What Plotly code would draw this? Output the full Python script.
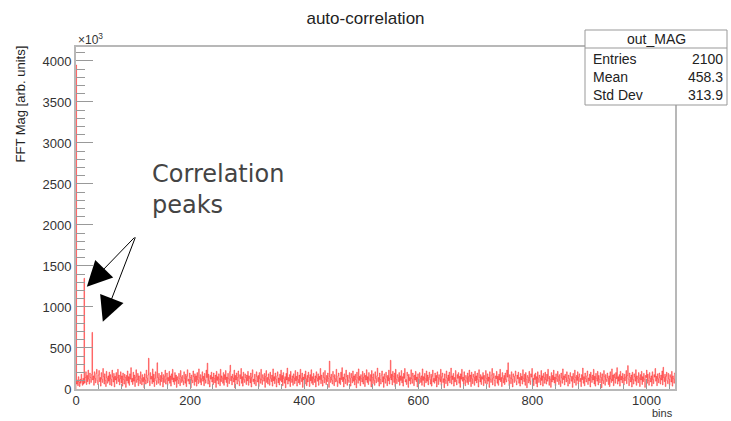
import plotly.graph_objects as go

# Histogram "out_MAG": 1050 bins over [0, 1050), contents in units of 1e3
bin_low = 0
bin_high = 1050

mag_rows = [
    [3950, 60, 110, 40, 150, 85, 30, 120, 70, 180, 95, 45, 130, 60, 1350, 75, 140, 210, 55, 165, 90, 230, 120, 60, 195, 140, 80, 175, 690, 110],
    [160, 45, 210, 130, 75, 190, 240, 100, 55, 170, 225, 90, 140, 35, 200, 120, 80, 250, 150, 60, 185, 105, 30, 215, 135, 70, 160, 95, 205, 50],
    [175, 120, 40, 230, 145, 85, 190, 25, 155, 110, 200, 65, 135, 240, 90, 170, 50, 125, 210, 75, 160, 35, 195, 115, 60, 180, 140, 20, 165, 100],
    [220, 70, 150, 45, 185, 120, 260, 85, 130, 55, 205, 95, 170, 30, 145, 235, 80, 115, 190, 40, 160, 105, 65, 210, 125, 50, 175, 90, 140, 15],
    [185, 110, 60, 230, 135, 75, 170, 375, 95, 40, 200, 120, 155, 65, 245, 85, 180, 30, 130, 210, 100, 55, 320, 140, 70, 190, 115, 45, 165, 90],
    [205, 130, 25, 175, 80, 150, 230, 60, 120, 195, 45, 140, 100, 215, 70, 160, 35, 185, 115, 240, 85, 135, 55, 200, 95, 170, 20, 150, 110, 65],
    [190, 125, 40, 225, 145, 80, 165, 100, 50, 210, 130, 70, 180, 30, 155, 235, 95, 120, 60, 195, 140, 15, 170, 105, 75, 220, 150, 45, 185, 90],
    [160, 35, 200, 115, 65, 245, 135, 80, 175, 50, 125, 210, 95, 155, 40, 190, 110, 70, 230, 140, 315, 60, 180, 100, 25, 165, 120, 205, 85, 145],
    [55, 195, 130, 75, 170, 20, 215, 105, 150, 60, 185, 120, 40, 240, 90, 160, 135, 70, 200, 45, 175, 115, 225, 80, 145, 30, 190, 125, 65, 210],
    [290, 100, 155, 50, 180, 135, 85, 230, 15, 165, 110, 195, 60, 140, 220, 95, 40, 175, 125, 250, 70, 150, 35, 205, 115, 80, 185, 140, 55, 170],
    [100, 215, 45, 160, 130, 75, 195, 25, 145, 235, 90, 120, 60, 180, 105, 40, 210, 150, 85, 165, 30, 200, 125, 70, 240, 110, 55, 175, 135, 95],
    [190, 20, 155, 225, 80, 140, 60, 185, 115, 45, 205, 130, 90, 170, 35, 245, 100, 150, 65, 195, 120, 25, 160, 210, 75, 135, 50, 180, 105, 230],
    [85, 165, 40, 200, 125, 70, 150, 15, 190, 110, 255, 60, 140, 95, 175, 30, 215, 120, 80, 160, 45, 185, 135, 65, 225, 100, 155, 35, 205, 115],
    [75, 170, 55, 240, 130, 90, 195, 20, 145, 110, 180, 60, 220, 125, 40, 165, 85, 205, 140, 30, 175, 100, 235, 70, 150, 50, 190, 120, 80, 160],
    [25, 210, 135, 95, 185, 45, 155, 115, 250, 65, 170, 105, 35, 200, 140, 75, 225, 120, 55, 165, 90, 195, 130, 20, 340, 145, 80, 180, 110, 60],
    [215, 150, 40, 175, 125, 85, 240, 100, 30, 160, 195, 70, 135, 55, 205, 115, 260, 90, 145, 25, 185, 120, 65, 230, 150, 45, 170, 105, 80, 200],
    [130, 35, 190, 140, 75, 220, 95, 160, 50, 180, 115, 15, 205, 135, 70, 245, 105, 155, 40, 175, 125, 85, 215, 60, 145, 190, 30, 165, 110, 235],
    [80, 150, 55, 200, 120, 95, 175, 25, 225, 140, 65, 185, 105, 45, 210, 130, 75, 160, 255, 90, 140, 35, 195, 115, 60, 170, 220, 85, 150, 20],
    [185, 125, 70, 205, 145, 40, 165, 100, 230, 60, 135, 350, 110, 180, 50, 215, 155, 80, 195, 30, 240, 120, 65, 175, 140, 90, 200, 45, 160, 105],
    [225, 75, 150, 35, 190, 130, 250, 85, 115, 55, 205, 165, 20, 180, 100, 140, 60, 235, 125, 70, 195, 155, 40, 170, 110, 215, 90, 145, 25, 185],
    [120, 65, 200, 135, 80, 160, 45, 245, 105, 150, 30, 190, 125, 75, 220, 95, 170, 50, 140, 205, 115, 60, 180, 35, 155, 230, 85, 130, 70, 195],
    [100, 165, 25, 210, 140, 55, 175, 120, 90, 240, 45, 150, 195, 80, 125, 15, 185, 110, 65, 220, 135, 40, 170, 100, 205, 75, 145, 255, 60, 160],
    [115, 190, 35, 140, 85, 225, 105, 50, 175, 130, 200, 70, 155, 20, 185, 120, 240, 95, 145, 60, 210, 110, 40, 165, 135, 80, 195, 55, 150, 230],
    [90, 170, 30, 205, 125, 65, 180, 145, 45, 215, 100, 160, 75, 195, 115, 25, 235, 140, 85, 175, 55, 150, 120, 200, 40, 165, 105, 70, 225, 130],
    [60, 185, 95, 145, 20, 210, 120, 80, 170, 250, 50, 135, 190, 105, 35, 160, 125, 215, 70, 155, 45, 180, 110, 240, 90, 140, 30, 200, 130, 75],
    [165, 55, 195, 115, 85, 230, 145, 320, 100, 40, 175, 135, 65, 210, 120, 25, 185, 150, 80, 160, 220, 95, 50, 170, 125, 205, 70, 140, 35, 190],
    [110, 155, 60, 235, 130, 90, 180, 45, 200, 120, 15, 165, 140, 75, 215, 100, 55, 185, 145, 250, 85, 130, 40, 175, 115, 195, 65, 150, 25, 210],
    [125, 80, 170, 135, 50, 225, 105, 160, 35, 190, 140, 70, 205, 115, 60, 180, 95, 240, 130, 45, 155, 120, 20, 200, 85, 165, 110, 230, 75, 145],
    [40, 185, 125, 90, 215, 150, 55, 175, 100, 30, 195, 135, 70, 245, 115, 160, 50, 180, 140, 85, 210, 105, 35, 170, 125, 65, 200, 150, 95, 155],
    [20, 190, 120, 75, 230, 140, 45, 165, 105, 210, 60, 145, 185, 90, 130, 30, 175, 115, 255, 70, 150, 40, 195, 125, 85, 160, 220, 55, 135, 100],
    [180, 25, 205, 145, 80, 170, 110, 240, 60, 155, 35, 190, 130, 95, 215, 50, 165, 120, 75, 200, 140, 15, 185, 105, 65, 225, 150, 45, 175, 115],
    [90, 195, 135, 55, 160, 30, 210, 120, 80, 245, 100, 170, 40, 185, 140, 70, 200, 125, 260, 60, 150, 95, 175, 35, 215, 110, 155, 75, 190, 130],
    [50, 180, 100, 145, 225, 65, 165, 285, 120, 40, 195, 140, 85, 170, 25, 205, 115, 60, 185, 150, 95, 235, 45, 160, 125, 75, 200, 135, 30, 175],
    [110, 215, 55, 150, 90, 190, 120, 20, 165, 140, 230, 70, 180, 105, 45, 200, 130, 85, 160, 35, 210, 115, 65, 175, 145, 250, 95, 155, 40, 185],
    [125, 75, 195, 135, 60, 170, 110, 220, 50, 265, 140, 90, 180, 30, 155, 205, 100, 65, 190, 120, 45, 175, 145, 85, 215, 35, 160, 125, 70, 195],
]
mag_values = [v for row in mag_rows for v in row]

y_ticks = [0, 500, 1000, 1500, 2000, 2500, 3000, 3500, 4000]
x_ticks = [0, 200, 400, 600, 800, 1000]

stats_name = "out_MAG"
stats_labels = ["Entries", "Mean", "Std Dev"]
stats_values = ["2100", "458.3", "313.9"]

# Histogram outline as a step line through bin edges
n_bins = len(mag_values)
width = (bin_high - bin_low) / n_bins
edges = [bin_low + i * width for i in range(n_bins)]
xs = [bin_low] + edges + [bin_high]
ys = [0] + mag_values + [mag_values[-1]]

W, H = 731, 421
ML, MR, MT, MB = 76, 56, 47, 32
PW, PH = W - ML - MR, H - MT - MB


def px(xp):
    return (xp - ML) / PW


def py(yp):
    return (H - MB - yp) / PH


FONT = "Liberation Sans, Arial, sans-serif"

fig = go.Figure()
fig.add_trace(go.Scatter(
    x=xs, y=ys, mode="lines",
    line=dict(color="rgba(255,0,0,0.7)", width=0.7, shape="hv"),
    hoverinfo="skip", showlegend=False,
))

fig.update_layout(
    width=W, height=H,
    margin=dict(l=ML, r=MR, t=MT, b=MB, pad=0),
    paper_bgcolor="white", plot_bgcolor="white",
    font=dict(family=FONT, size=13, color="#333333"),
    title=dict(text="auto-correlation", x=0.5, xanchor="center",
               y=1 - 18 / H, yanchor="middle",
               font=dict(family=FONT, size=17, color="#222222")),
    showlegend=False,
)

fig.update_xaxes(
    range=[bin_low, bin_high], tickvals=x_ticks,
    showgrid=False, zeroline=False,
    showline=True, linecolor="#b8b8b8", linewidth=2, mirror=True,
    ticks="inside", ticklen=10, tickcolor="#999999", tickwidth=1,
    minor=dict(ticks="inside", ticklen=5, dtick=40, tickcolor="#999999"),
    tickfont=dict(size=13, color="#333333"),
    ticklabelstandoff=-2,
)
fig.update_yaxes(
    range=[0, 4170], tickvals=y_ticks,
    showgrid=False, zeroline=False,
    showline=True, linecolor="#b8b8b8", linewidth=2, mirror=True,
    ticks="inside", ticklen=17, tickcolor="#999999", tickwidth=1,
    minor=dict(ticks="inside", ticklen=9, dtick=100, tickcolor="#999999"),
    tickfont=dict(size=13, color="#333333"),
)

annotations = [
    dict(text="×10<sup>3</sup>", xref="paper", yref="paper",
         x=0, y=py(39), xanchor="left", yanchor="middle",
         showarrow=False, font=dict(size=12, color="#333333")),
    dict(text="FFT Mag [arb. units]", xref="paper", yref="paper",
         x=px(20), y=py(44), xanchor="center", yanchor="top", textangle=-90,
         showarrow=False, font=dict(size=13, color="#222222")),
    dict(text="bins", xref="paper", yref="paper",
         x=1, y=py(421), xanchor="right", yanchor="bottom",
         showarrow=False, font=dict(size=11, color="#333333")),
    dict(text="Correlation<br>peaks", xref="paper", yref="paper",
         x=px(150), y=py(158), xanchor="left", yanchor="top", align="left",
         showarrow=False,
         font=dict(family="DejaVu Sans, sans-serif", size=24, color="#444444")),
]

# Arrows pointing at the two correlation peaks (tail and tip in data units)
arrow_tail = (105, 1866)
arrow_tips = [(19, 1248), (47, 820)]
for tx, ty in arrow_tips:
    annotations.append(dict(
        text="", x=tx, y=ty, xref="x", yref="y",
        ax=arrow_tail[0], ay=arrow_tail[1], axref="x", ayref="y",
        showarrow=True, arrowhead=2, arrowsize=5, arrowwidth=1,
        arrowcolor="black", standoff=0, startstandoff=0,
    ))

# Statistics box
bx0, bx1 = px(585), px(727)
by_top, by_sep, by_bot = py(30), py(48), py(105)
shapes = [
    dict(type="rect", xref="paper", yref="paper", x0=bx0, x1=bx1,
         y0=by_bot, y1=by_top, fillcolor="white",
         line=dict(color="#999999", width=1), layer="above"),
    dict(type="line", xref="paper", yref="paper", x0=bx0, x1=bx1,
         y0=by_sep, y1=by_sep, line=dict(color="#999999", width=1),
         layer="above"),
]
annotations.append(dict(
    text=stats_name, xref="paper", yref="paper", x=(bx0 + bx1) / 2,
    y=py(39), xanchor="center", yanchor="middle", showarrow=False,
    font=dict(size=14, color="#222222")))
row_y = [59, 77, 95]
for lab, val, yy in zip(stats_labels, stats_values, row_y):
    annotations.append(dict(
        text=lab, xref="paper", yref="paper", x=px(591), y=py(yy),
        xanchor="left", yanchor="middle", showarrow=False,
        font=dict(size=14, color="#222222")))
    annotations.append(dict(
        text=val, xref="paper", yref="paper", x=px(725), y=py(yy),
        xanchor="right", yanchor="middle", showarrow=False,
        font=dict(size=14, color="#222222")))

fig.update_layout(annotations=annotations, shapes=shapes)

fig.write_html("out.html")
